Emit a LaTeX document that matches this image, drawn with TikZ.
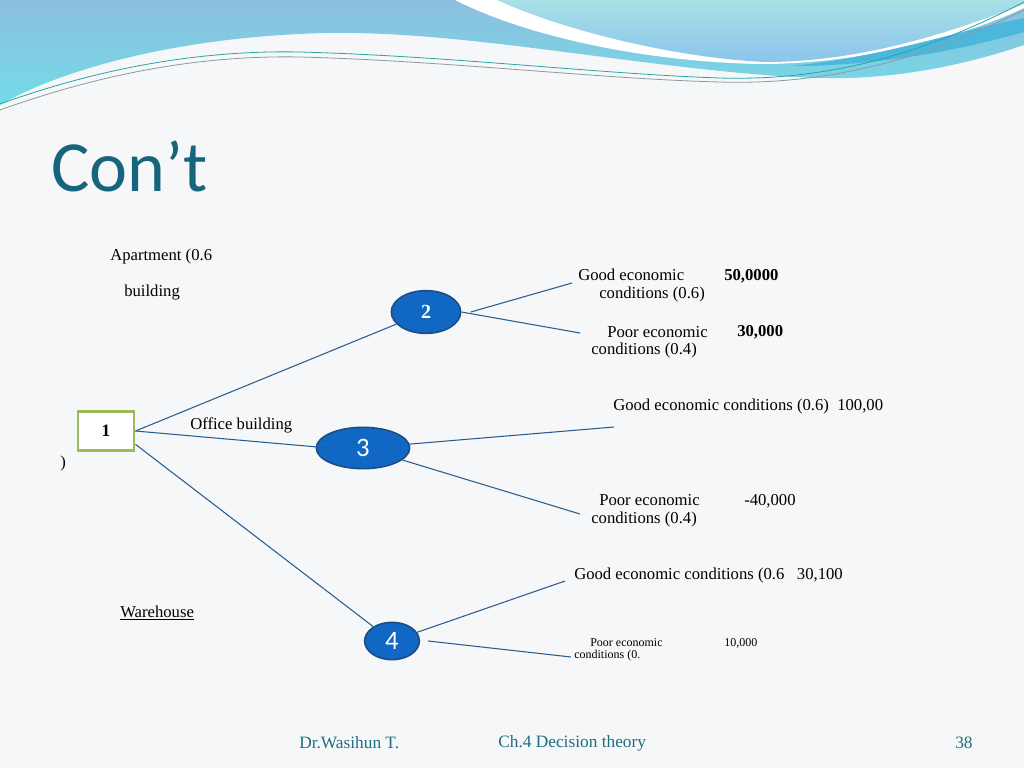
\documentclass[tikz,border=0pt]{standalone}
\usepackage{fontspec}
\setmainfont{Liberation Serif}
\newfontfamily\titlefont{Carlito}
\usetikzlibrary{shapes.geometric}
\definecolor{SlideBg}{HTML}{F6F7F8}
\definecolor{TitleTeal}{HTML}{17657D}
\definecolor{FootTeal}{HTML}{1F6E80}
\definecolor{WaveBlue}{HTML}{8CBFDF}
\definecolor{WaveCyan}{HTML}{72DCE8}
\definecolor{WaveLight}{HTML}{A8E0E6}
\definecolor{WaveSky}{HTML}{8CC4EC}
\definecolor{WaveDeep}{HTML}{4DB6DB}
\definecolor{LineTeal}{HTML}{2AA3A6}
\definecolor{LineGray}{HTML}{8C9AA0}
\definecolor{NodeBlue}{HTML}{1167C4}
\definecolor{NodeEdge}{HTML}{1D4E82}
\definecolor{BoxGreen}{HTML}{9BBB59}
\definecolor{LinkBlue}{HTML}{2B5E90}
\tikzset{
  decbox/.style={draw=BoxGreen, line width=2.2pt, fill=white, minimum width=42pt, minimum height=29pt, inner sep=0pt, font=\fontsize{13}{15}\selectfont\bfseries},
  chance/.style={ellipse, draw=NodeEdge, line width=1.2pt, fill=NodeBlue, text=white, inner sep=0pt},
  branch/.style={draw=LinkBlue, line width=0.8pt},
  lbl/.style={anchor=west, inner sep=0pt, font=\fontsize{12.5}{14}\selectfont},
  smalllbl/.style={anchor=west, inner sep=0pt, font=\fontsize{9}{10}\selectfont},
  foot/.style={anchor=west, inner sep=0pt, text=FootTeal, font=\fontsize{13}{15}\selectfont}
}

\begin{document}
\begin{tikzpicture}[x=0.75pt, y=-0.75pt]
\useasboundingbox (0,0) rectangle (1024,768);
\fill[SlideBg] (0,0) rectangle (1024,768);

% top wave
\shade[top color=WaveBlue, bottom color=WaveCyan]
  (0,0) -- (1024,0) -- (1024,45) .. controls (950,70) and (880,80) .. (817,78)
  .. controls (650,72) and (450,25) .. (300,34) .. controls (170,40) and (60,70) .. (0,105) -- cycle;
\fill[white] (455,0) .. controls (530,38) and (650,62) .. (760,64)
  .. controls (860,64) and (960,38) .. (1024,8) -- (1024,0) -- cycle;
\shade[top color=WaveLight, bottom color=WaveSky]
  (497,0) .. controls (570,33) and (680,58) .. (765,62)
  .. controls (860,62) and (950,33) .. (1024,4) -- (1024,0) -- cycle;
\fill[WaveDeep] (790,66) .. controls (880,58) and (960,30) .. (1024,18) -- (1024,32)
  .. controls (960,50) and (880,66) .. (790,66) -- cycle;
\draw[LineTeal, line width=0.6pt] (0,104) .. controls (100,68) and (200,50) .. (300,52)
  .. controls (450,56) and (600,74) .. (720,78) .. controls (850,82) and (950,40) .. (1024,2);
\draw[LineGray, line width=0.6pt] (0,110) .. controls (100,74) and (200,55) .. (300,57)
  .. controls (450,61) and (600,79) .. (720,82) .. controls (850,86) and (950,46) .. (1024,10);

% title
\node[anchor=west, inner sep=0pt, text=TitleTeal, font=\titlefont\fontsize{54}{60}\selectfont] (title) at (51,166) {Con’t};

% tree nodes
\node[decbox] (d1) at (106,431) {1};
\node[chance, minimum width=52pt, minimum height=32pt, font=\fontsize{15}{17}\selectfont\bfseries] (c2) at (426,312) {2};
\node[chance, minimum width=70pt, minimum height=31pt, font=\titlefont\fontsize{20}{22}\selectfont] (c3) at (363,448) {3};
\node[chance, minimum width=41pt, minimum height=28pt, font=\titlefont\fontsize{20}{22}\selectfont] (c4) at (392,641) {4};

% branch labels
\node[lbl] (apt) at (110,256) {Apartment (0.6};
\node[lbl] (bld) at (124,293) {building};
\node[lbl] (off) at (190,425) {Office building};
\node[lbl] (par) at (60,463) {)};
\node[lbl] (wh) at (120,613) {\underline{Warehouse}};

% outcomes of 2
\node[lbl] (g2a) at (578,275) {Good economic};
\node[lbl] (g2b) at (599,294) {conditions (0.6)};
\node[lbl, font=\fontsize{12.5}{14}\selectfont\bfseries] (v2g) at (724,276) {50,0000};
\node[lbl] (p2a) at (607,332) {Poor economic};
\node[lbl] (p2b) at (591,350) {conditions (0.4)};
\node[lbl, font=\fontsize{12.5}{14}\selectfont\bfseries] (v2p) at (737,332) {30,000};

% outcomes of 3
\node[lbl] (g3) at (613,406) {Good economic conditions (0.6)\ \ 100,00};
\node[lbl] (p3a) at (599,500) {Poor economic};
\node[lbl] (p3b) at (591,519) {conditions (0.4)};
\node[lbl] (v3p) at (744,501) {-40,000};

% outcomes of 4
\node[lbl] (g4) at (574,575) {Good economic conditions (0.6\ \ \ 30,100};
\node[smalllbl] (p4a) at (590,643) {Poor economic};
\node[smalllbl] (p4b) at (574,656) {conditions (0.};
\node[smalllbl] (v4p) at (724,643) {10,000};

% branch ends
\coordinate (e2g) at (572,283);
\coordinate (e2p) at (580,333);
\coordinate (e3g) at (614,427);
\coordinate (e3p) at (580,514);
\coordinate (e4g) at (565,581);
\coordinate (e4p) at (571,657);

\draw[branch] (d1.east) -- (c2);
\draw[branch] (d1.east) -- ([xshift=10pt]c3.west);
\draw[branch] ([yshift=-10pt]d1.east) -- (c4);
\draw[branch] ([xshift=7pt]c2.east) -- (e2g);
\draw[branch] (c2.east) -- (e2p);
\draw[branch] (c3) -- (e3g);
\draw[branch] (c3) -- (e3p);
\draw[branch] (c4) -- (e4g);
\draw[branch] ([xshift=6pt]c4.east) -- (e4p);

% footer
\node[foot] (auth) at (299,743) {Dr.Wasihun T.};
\node[foot] (chap) at (498,743) {Ch.4 Decision theory};
\node[foot] (page) at (955,743) {38};
\end{tikzpicture}
\end{document}
